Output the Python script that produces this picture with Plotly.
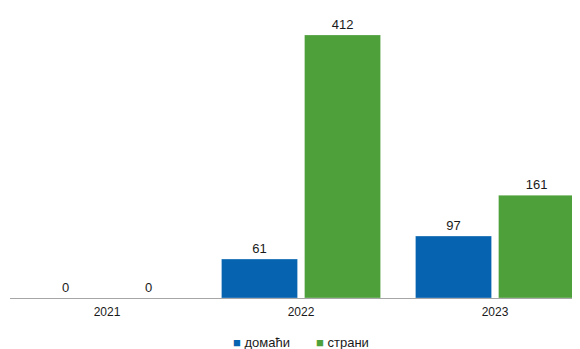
import plotly.graph_objects as go

years = ["2021", "2022", "2023"]
domestic = [0, 61, 97]
foreign = [0, 412, 161]
series_names = ["домаћи", "страни"]
colors = ["#0563B0", "#4EA03B"]

fig = go.Figure()
for name, vals, col in zip(series_names, [domestic, foreign], colors):
    fig.add_trace(go.Bar(
        x=years, y=vals, name=name,
        marker=dict(color=col, line=dict(color="rgba(255,255,255,0.6)", width=0.5)),
        text=[str(v) for v in vals], textposition="outside",
        textfont=dict(size=13, color="#1a1a1a", family="Liberation Sans, Arial"),
        cliponaxis=False, showlegend=False,
    ))

# manual legend (compact, like the reference)
legend_x = [0.442, 0.583]
for name, col, lx in zip(series_names, colors, legend_x):
    fig.add_annotation(
        xref="paper", yref="paper", x=lx, y=-0.153, xanchor="center", yanchor="middle",
        text=f'<span style="color:{col}">■</span> {name}', showarrow=False,
        font=dict(size=13, color="#1a1a1a", family="Liberation Sans, Arial"),
    )

fig.update_layout(
    width=580, height=349,
    margin=dict(l=2, r=8, t=2, b=59, autoexpand=False),
    paper_bgcolor="white", plot_bgcolor="white",
    barmode="group", bargap=0.144, bargroupgap=0.084,
    font=dict(family="Liberation Sans, Arial", size=13, color="#1a1a1a"),
    showlegend=False,
    xaxis=dict(type="category", range=[-0.5, 2.438], showline=True, linecolor="#A6A6A6",
               linewidth=1, ticks="outside", ticklen=3, tickcolor="rgba(0,0,0,0)",
               tickfont=dict(size=12), showgrid=False, automargin=False),
    yaxis=dict(range=[0, 451], visible=False, showgrid=False, zeroline=False, automargin=False),
)
fig.write_html("out.html")
